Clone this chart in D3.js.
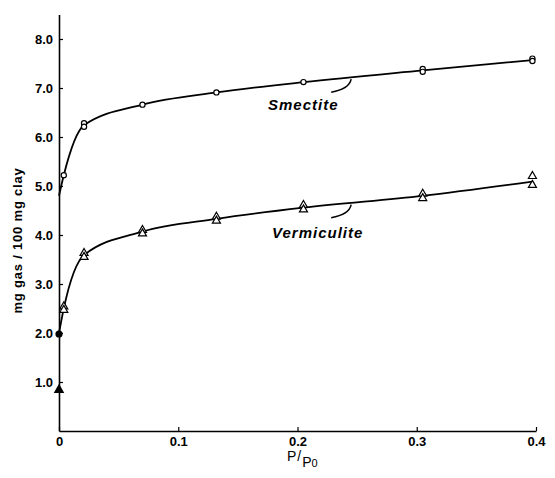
<!DOCTYPE html>
<html>
<head>
<meta charset="utf-8">
<script src="https://cdn.jsdelivr.net/npm/d3@7"></script>
<style>
  body { margin: 0; background: #fff; }
  text { font-family: "Liberation Sans", Arial, sans-serif; fill: #000; }
</style>
</head>
<body>
<svg id="chart"></svg>
<script>
const width = 555;
const height = 478;

// measured points (P/P0, mg gas / 100 mg clay); repeated P = duplicate runs
const smectiteP   = [0.004, 0.021, 0.021, 0.07, 0.132, 0.205, 0.305, 0.305, 0.397, 0.397];
const smectiteV   = [5.22, 6.28, 6.21, 6.66, 6.91, 7.12, 7.39, 7.33, 7.60, 7.55];
const vermicP     = [0.004, 0.004, 0.021, 0.021, 0.07, 0.07, 0.132, 0.132, 0.205, 0.205, 0.305, 0.305, 0.397, 0.397];
const vermicV     = [2.54, 2.47, 3.63, 3.55, 4.10, 4.03, 4.37, 4.29, 4.61, 4.52, 4.84, 4.75, 5.20, 5.02];

// smoothed curves drawn through the data
const smectiteCurveP = [0, 0.004, 0.021, 0.07, 0.132, 0.205, 0.305, 0.397];
const smectiteCurveV = [4.8, 5.22, 6.24, 6.66, 6.91, 7.12, 7.36, 7.57];
const vermicCurveP   = [0, 0.004, 0.021, 0.07, 0.132, 0.205, 0.305, 0.397];
const vermicCurveV   = [2.0, 2.5, 3.59, 4.07, 4.33, 4.56, 4.80, 5.09];

// solid symbols on the axis (P/P0 = 0)
const filledCircle   = [[0, 1.98]];
const filledTriangle = [[0, 0.84]];

const xTicks = [0, 0.1, 0.2, 0.3, 0.4];
const yTicks = [1, 2, 3, 4, 5, 6, 7, 8];

const svg = d3.select("#chart")
  .attr("width", width)
  .attr("height", height);

const x = d3.scaleLinear().domain([0, 0.4]).range([59, 536]);
const y = d3.scaleLinear().domain([0, 8.5]).range([431, 14.5]);

// axes
const xAxis = d3.axisBottom(x)
  .tickValues(xTicks)
  .tickSizeInner(-4)
  .tickSizeOuter(0)
  .tickPadding(6)
  .tickFormat(d => d === 0 ? "0" : d3.format(".1f")(d));

const yAxis = d3.axisLeft(y)
  .tickValues(yTicks)
  .tickSizeInner(-4)
  .tickSizeOuter(0)
  .tickPadding(6)
  .tickFormat(d3.format(".1f"));

const gx = svg.append("g")
  .attr("transform", `translate(0,${y(0)})`)
  .call(xAxis);

const gy = svg.append("g")
  .attr("transform", `translate(${x(0)},0)`)
  .call(yAxis);

[gx, gy].forEach(g => {
  g.select(".domain").attr("stroke", "#000").attr("stroke-width", 1.6);
  g.selectAll(".tick line").attr("stroke", "#000").attr("stroke-width", 1.2);
  g.selectAll(".tick text")
    .attr("font-family", "Liberation Sans, Arial, sans-serif")
    .attr("font-size", 13)
    .attr("font-weight", "bold");
});

// curves
const line = d3.line()
  .x(d => x(d[0]))
  .y(d => y(d[1]))
  .curve(d3.curveMonotoneX);

svg.append("path")
  .datum(d3.zip(smectiteCurveP, smectiteCurveV))
  .attr("d", line)
  .attr("fill", "none")
  .attr("stroke", "#000")
  .attr("stroke-width", 1.8);

svg.append("path")
  .datum(d3.zip(vermicCurveP, vermicCurveV))
  .attr("d", line)
  .attr("fill", "none")
  .attr("stroke", "#000")
  .attr("stroke-width", 1.8);

// open circles
svg.append("g")
  .selectAll("circle")
  .data(d3.zip(smectiteP, smectiteV))
  .join("circle")
  .attr("cx", d => x(d[0]))
  .attr("cy", d => y(d[1]))
  .attr("r", 2.6)
  .attr("fill", "#fff")
  .attr("stroke", "#000")
  .attr("stroke-width", 1.2);

// open triangles
const tri = d3.symbol().type(d3.symbolTriangle).size(28);
svg.append("g")
  .selectAll("path")
  .data(d3.zip(vermicP, vermicV))
  .join("path")
  .attr("d", tri)
  .attr("transform", d => `translate(${x(d[0])},${y(d[1])})`)
  .attr("fill", "#fff")
  .attr("stroke", "#000")
  .attr("stroke-width", 1.2);

// solid symbols
svg.append("g")
  .selectAll("circle")
  .data(filledCircle)
  .join("circle")
  .attr("cx", d => x(d[0]))
  .attr("cy", d => y(d[1]))
  .attr("r", 3.6)
  .attr("fill", "#000");

svg.append("g")
  .selectAll("path")
  .data(filledTriangle)
  .join("path")
  .attr("d", d3.symbol().type(d3.symbolTriangle).size(48))
  .attr("transform", d => `translate(${x(d[0])},${y(d[1])})`)
  .attr("fill", "#000");

// curve labels with small leaders
const labels = [
  { name: "Smectite", p: 0.245, v: 7.22, tx: 268, ty: 110 },
  { name: "Vermiculite", p: 0.245, v: 4.66, tx: 272, ty: 238 }
];

labels.forEach(l => {
  const sx = x(l.p), sy = y(l.v);
  svg.append("path")
    .attr("d", `M${sx},${sy + 2} Q${sx - 2},${sy + 12} ${sx - 20},${sy + 15}`)
    .attr("fill", "none")
    .attr("stroke", "#000")
    .attr("stroke-width", 1.5);
  svg.append("text")
    .attr("x", l.tx)
    .attr("y", l.ty)
    .attr("font-size", 15)
    .attr("font-style", "italic")
    .attr("font-weight", "bold")
    .attr("letter-spacing", 1)
    .text(l.name);
});

// axis titles
svg.append("text")
  .attr("transform", `translate(22,${(158 + 323) / 2}) rotate(-90)`)
  .attr("text-anchor", "middle")
  .attr("font-size", 13)
  .attr("font-weight", "bold")
  .attr("letter-spacing", 0.8)
  .text("mg gas / 100 mg clay");

const xt = svg.append("text")
  .attr("x", 287)
  .attr("y", 461)
  .attr("font-size", 14);
xt.append("tspan").text("P");
xt.append("tspan").attr("dx", 1).text("/");
xt.append("tspan").attr("dy", 6).attr("dx", 1).text("P");
xt.append("tspan").attr("font-size", 11).text("0");
</script>
</body>
</html>
